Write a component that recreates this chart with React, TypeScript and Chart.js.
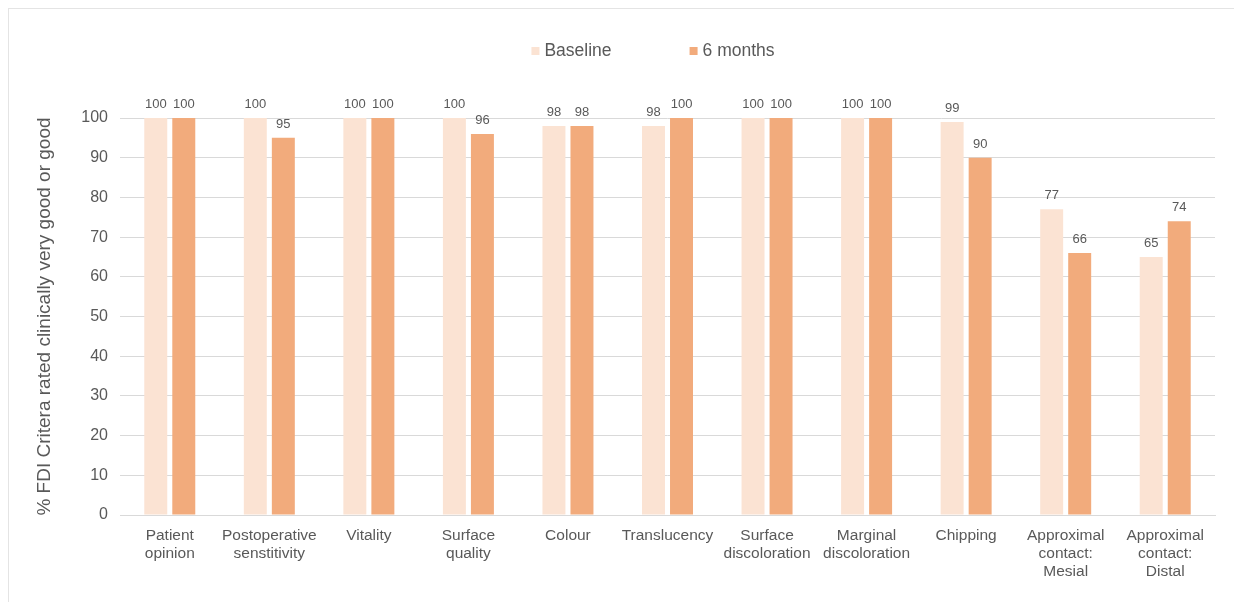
import React, { useEffect, useRef } from "react";
import { Chart, registerables } from "chart.js";

Chart.register(...registerables);

const categories: string[][] = [
  ["Patient", "opinion"],
  ["Postoperative", "senstitivity"],
  ["Vitality"],
  ["Surface", "quality"],
  ["Colour"],
  ["Translucency"],
  ["Surface", "discoloration"],
  ["Marginal", "discoloration"],
  ["Chipping"],
  ["Approximal", "contact:", "Mesial"],
  ["Approximal", "contact:", "Distal"],
];

const baselineValues = [100, 100, 100, 100, 98, 98, 100, 100, 99, 77, 65];
const sixMonthValues = [100, 95, 100, 96, 98, 100, 100, 100, 90, 66, 74];

const seriesLabels = ["Baseline", "6 months"];
const yTicks = [0, 10, 20, 30, 40, 50, 60, 70, 80, 90, 100];
const yTitle = "% FDI Critera rated clinically very good or good";

const FONT = "'Liberation Sans', Arial, sans-serif";
const TEXT = "#595959";
const GRID = "#d9d9d9";
const COLORS = ["#FBE3D3", "#F2AB7C"];

const W = 1225;
const H = 593;

export default function App() {
  const ref = useRef<HTMLCanvasElement | null>(null);

  useEffect(() => {
    if (!ref.current) return;

    const valueLabels = {
      id: "valueLabels",
      afterDatasetsDraw(chart: any) {
        const ctx = chart.ctx;
        ctx.save();
        ctx.font = `13px ${FONT}`;
        ctx.fillStyle = TEXT;
        ctx.textAlign = "center";
        ctx.textBaseline = "bottom";
        chart.data.datasets.forEach((ds: any, di: number) => {
          const meta = chart.getDatasetMeta(di);
          meta.data.forEach((bar: any, i: number) => {
            ctx.fillText(String(ds.data[i]), bar.x, bar.y - 7);
          });
        });
        ctx.restore();
      },
    };

    const customLegend = {
      id: "customLegend",
      afterDraw(chart: any) {
        const ctx = chart.ctx;
        ctx.save();
        ctx.font = `17.5px ${FONT}`;
        ctx.textBaseline = "middle";
        const box = 8;
        const gapText = 5;
        const spacing = 78;
        const items = chart.data.datasets.map((ds: any) => ({
          label: ds.label,
          color: ds.backgroundColor,
          w: ctx.measureText(ds.label).width,
        }));
        let total = 0;
        items.forEach((it: any, idx: number) => {
          total += box + gapText + it.w + (idx < items.length - 1 ? spacing : 0);
        });
        const cx = 644;
        const cy = 42;
        let x = cx - total / 2;
        items.forEach((it: any) => {
          ctx.fillStyle = it.color;
          ctx.fillRect(x, cy - box / 2, box, box);
          x += box + gapText;
          ctx.fillStyle = TEXT;
          ctx.textAlign = "left";
          ctx.fillText(it.label, x, cy);
          x += it.w + spacing;
        });
        ctx.restore();
      },
    };

    const chart = new Chart(ref.current, {
      type: "bar",
      data: {
        labels: categories,
        datasets: [
          {
            label: seriesLabels[0],
            data: baselineValues,
            backgroundColor: COLORS[0],
            categoryPercentage: 0.563,
            barPercentage: 0.82,
          },
          {
            label: seriesLabels[1],
            data: sixMonthValues,
            backgroundColor: COLORS[1],
            categoryPercentage: 0.563,
            barPercentage: 0.82,
          },
        ],
      },
      options: {
        responsive: false,
        animation: false,
        devicePixelRatio: 1,
        layout: { padding: { top: 109, right: 19, left: 0, bottom: 0 } },
        plugins: {
          legend: { display: false },
          tooltip: { enabled: false },
        },
        scales: {
          x: {
            grid: { display: false, drawTicks: false },
            border: { display: true, color: GRID, width: 1 },
            ticks: {
              color: TEXT,
              font: { family: FONT, size: 15.5, lineHeight: 1.16 },
              padding: 12,
              maxRotation: 0,
              autoSkip: false,
            },
            afterFit: (scale: any) => {
              scale.height = 87;
            },
          },
          y: {
            min: 0,
            max: 100,
            afterBuildTicks: (scale: any) => {
              scale.ticks = yTicks.map((v) => ({ value: v }));
            },
            grid: { color: GRID, lineWidth: 1, drawTicks: false },
            border: { display: false },
            ticks: {
              color: TEXT,
              font: { family: FONT, size: 16 },
              padding: 12,
            },
            title: {
              display: true,
              text: yTitle,
              color: TEXT,
              font: { family: FONT, size: 19 },
              padding: { top: 24, bottom: 0 },
            },
            afterFit: (scale: any) => {
              scale.width = 111;
            },
          },
        },
      },
      plugins: [valueLabels, customLegend],
    });

    return () => chart.destroy();
  }, []);

  return (
    <div
      style={{
        position: "fixed",
        left: 8,
        top: 8,
        width: W + 1,
        height: H + 1,
        overflow: "hidden",
        borderTop: "1px solid #e4e4e4",
        borderLeft: "1px solid #e4e4e4",
        boxSizing: "border-box",
        background: "#ffffff",
      }}
    >
      <canvas ref={ref} width={W} height={H} style={{ display: "block" }} />
    </div>
  );
}
